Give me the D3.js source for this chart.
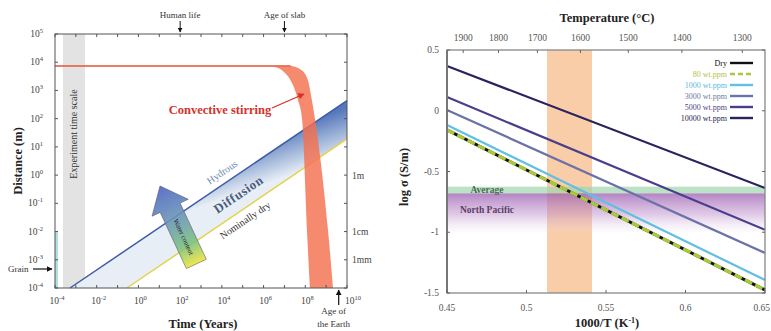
<!DOCTYPE html>
<html><head><meta charset="utf-8">
<script src="https://cdn.jsdelivr.net/npm/d3@7"></script>
<style>html,body{margin:0;padding:0;background:#fff;}svg{display:block;font-family:"Liberation Serif","DejaVu Serif",serif;}</style>
</head><body>
<svg id="c" width="771" height="331"></svg>
<script>
// ---------- Left panel data (log10 values) ----------
const timeTickExp = [-4, -2, 0, 2, 4, 6, 8, 10];
const distTickExp = [-4, -3, -2, -1, 0, 1, 2, 3, 4, 5];
const scaleLabels = [["1m", 0], ["1cm", -2], ["1mm", -3]];
const experimentBand = [-3.62, -2.56];           // log10 years
const grainBand = { t: [-4, -3.86], d: [-4, -2] };
const hydrousLine = [[-3.28, -4], [10, 2.64]];   // [log t, log d]
const dryLine = [[-0.55, -4], [10, 1.28]];
const convUpper = [[-4, 3.87], [6.45, 3.87], [7.3, 3.87], [7.78, 3.74], [8.12, 3.38], [8.27, 2.85], [8.4, 2.3], [9.09, -1.95], [9.33, -4.0]];
const convLower = [[-4, 3.84], [6.45, 3.84], [7.03, 3.62], [7.41, 3.19], [7.65, 2.66], [7.85, 1.95], [8.08, -1.95], [8.22, -4.0]];
const topMarkers = [["Human life", 2], ["Age of slab", 7]];
const earthAge = 9.65;

// ---------- Right panel data ----------
const seriesNames = ["Dry", "80 wt.ppm", "1000 wt.ppm", "3000 wt.ppm", "5000 wt.ppm", "10000 wt.ppm"];
const invT = [0.45, 0.65];
const dryVals = [-0.158, -1.475];
const ppm80Vals = [-0.158, -1.475];
const ppm1000Vals = [-0.117, -1.393];
const ppm3000Vals = [0.006, -1.17];
const ppm5000Vals = [0.113, -0.98];
const ppm10000Vals = [0.368, -0.636];
const tempTicks = [1900, 1800, 1700, 1600, 1500, 1400, 1300];
const xTicksR = [0.45, 0.5, 0.55, 0.6, 0.65];
const yTicksR = [0.5, 0, -0.5, -1, -1.5];
const orangeBand = [0.5129, 0.5412];
const averageBand = [-0.625, -0.68];
const pacificBand = [-0.68, -1.0];

const svg = d3.select("#c");
const defs = svg.append("defs");
const p10 = e => Math.pow(10, e);

// ================= LEFT PANEL =================
const xL = d3.scaleLog().domain([1e-4, 1e10]).range([55, 347]);
const yL = d3.scaleLog().domain([1e-4, 1e5]).range([288, 34]);
const L = svg.append("g");

L.append("rect").attr("x", xL(p10(experimentBand[0]))).attr("y", 34)
  .attr("width", xL(p10(experimentBand[1])) - xL(p10(experimentBand[0]))).attr("height", 254)
  .attr("fill", "#e3e3e3");
L.append("text").attr("transform", `translate(${(xL(p10(experimentBand[0])) + xL(p10(experimentBand[1]))) / 2 + 3},134) rotate(-90)`)
  .attr("text-anchor", "middle").attr("font-size", 10).attr("fill", "#333").text("Experiment time scale");

L.append("rect").attr("x", xL(p10(grainBand.t[0]))).attr("y", yL(p10(grainBand.d[1])))
  .attr("width", xL(p10(grainBand.t[1])) - xL(p10(grainBand.t[0])))
  .attr("height", yL(p10(grainBand.d[0])) - yL(p10(grainBand.d[1]))).attr("fill", "#aee0dc");

// diffusion band
const hx0 = xL(p10(hydrousLine[0][0])), hy0 = yL(p10(hydrousLine[0][1]));
const hx1 = xL(p10(hydrousLine[1][0])), hy1 = yL(p10(hydrousLine[1][1]));
const dx0 = xL(p10(dryLine[0][0])), dy0 = yL(p10(dryLine[0][1]));
const dx1 = xL(p10(dryLine[1][0])), dy1 = yL(p10(dryLine[1][1]));
const gd = defs.append("linearGradient").attr("id", "gdiff").attr("gradientUnits", "userSpaceOnUse")
  .attr("x1", 200).attr("y1", 160).attr("x2", 215).attr("y2", 202);
gd.append("stop").attr("offset", 0).attr("stop-color", "#5677bb");
gd.append("stop").attr("offset", 0.5).attr("stop-color", "#9db3d8");
gd.append("stop").attr("offset", 1).attr("stop-color", "#e8eef6");
L.append("path").attr("d", `M${hx0},${hy0}L${hx1},${hy1}L${dx1},${dy1}L${dx0},${dy0}Z`).attr("fill", "url(#gdiff)");
const lineL = d3.line().x(d => xL(p10(d[0]))).y(d => yL(p10(d[1])));
L.append("path").attr("d", lineL(hydrousLine)).attr("stroke", "#3d5ca8").attr("stroke-width", 1.5).attr("fill", "none");
L.append("path").attr("d", lineL(dryLine)).attr("stroke", "#e3d34a").attr("stroke-width", 1.5).attr("fill", "none");

// convective band
const curveL = d3.line().x(d => xL(p10(d[0]))).y(d => yL(p10(d[1]))).curve(d3.curveMonotoneX);
const up = curveL(convUpper);
const lo = curveL(convLower.slice().reverse());
L.append("path").attr("d", up + "L" + lo.slice(1) + "Z").attr("fill", "#f4704f").attr("fill-opacity", 0.82);
L.append("path").attr("d", curveL(convUpper.slice(0, 3))).attr("stroke", "#e2533a").attr("stroke-width", 1.4).attr("fill", "none");

// water content arrow
const ga = defs.append("linearGradient").attr("id", "garrow").attr("x1", 0).attr("y1", 0).attr("x2", 0).attr("y2", 1);
ga.append("stop").attr("offset", 0).attr("stop-color", "#4a64c4");
ga.append("stop").attr("offset", 0.45).attr("stop-color", "#6f9ab4");
ga.append("stop").attr("offset", 0.75).attr("stop-color", "#7cc080");
ga.append("stop").attr("offset", 1).attr("stop-color", "#ece43c");
const arr = L.append("g").attr("transform", "translate(160,186) rotate(-25)");
arr.append("path").attr("d", "M0,0L20,24L11,24L11,86L-11,86L-11,24L-20,24Z")
  .attr("fill", "url(#garrow)").attr("fill-opacity", 0.9).attr("stroke", "#556").attr("stroke-width", 0.5);
arr.append("text").attr("transform", "translate(0,56) rotate(90)").attr("text-anchor", "middle")
  .attr("dy", "0.35em").attr("font-size", 7).attr("fill", "#223").text("Water content");

const ang = -Math.atan((yL(1) - yL(10)) / (xL(10) - xL(1)) * 0.5) * 180 / Math.PI;
L.append("text").attr("transform", `translate(224,175) rotate(${ang})`).attr("text-anchor", "middle")
  .attr("font-size", 10).attr("fill", "#7086aa").text("Hydrous");
L.append("text").attr("transform", `translate(241,198) rotate(${ang})`).attr("text-anchor", "middle")
  .attr("font-size", 13).attr("font-weight", "bold").attr("fill", "#4b5d80").attr("letter-spacing", 0.6).text("Diffusion");
L.append("text").attr("transform", `translate(247,223) rotate(${ang})`).attr("text-anchor", "middle")
  .attr("font-size", 10).attr("fill", "#333").text("Nominally dry");
L.append("text").attr("x", 220).attr("y", 114).attr("text-anchor", "middle").attr("font-size", 12.5)
  .attr("font-weight", "bold").attr("fill", "#d6312b").text("Convective stirring");
defs.append("marker").attr("id", "mred").attr("viewBox", "0 0 10 10").attr("refX", 9).attr("refY", 5)
  .attr("markerWidth", 5).attr("markerHeight", 5).attr("orient", "auto")
  .append("path").attr("d", "M0,0L10,5L0,10Z").attr("fill", "#d6312b");
L.append("line").attr("x1", 272).attr("y1", 108).attr("x2", 304).attr("y2", 94)
  .attr("stroke", "#d6312b").attr("stroke-width", 1.3).attr("marker-end", "url(#mred)");

// frame & ticks
L.append("rect").attr("x", 55).attr("y", 34).attr("width", 292).attr("height", 254)
  .attr("fill", "none").attr("stroke", "#555").attr("stroke-width", 1);
d3.range(-4, 11).forEach(e => {
  const x = xL(p10(e));
  L.append("line").attr("x1", x).attr("x2", x).attr("y1", 288).attr("y2", 285).attr("stroke", "#555");
  L.append("line").attr("x1", x).attr("x2", x).attr("y1", 34).attr("y2", 37).attr("stroke", "#555");
});
distTickExp.forEach(e => {
  const y = yL(p10(e));
  L.append("line").attr("x1", 55).attr("x2", 58).attr("y1", y).attr("y2", y).attr("stroke", "#555");
  L.append("line").attr("x1", 347).attr("x2", 344).attr("y1", y).attr("y2", y).attr("stroke", "#555");
});
function pow10Label(sel, e) {
  sel.append("tspan").text("10");
  sel.append("tspan").attr("dy", -4).attr("font-size", 6.5).text(e < 0 ? "-" + Math.abs(e) : e);
}
timeTickExp.forEach(e => {
  const t = L.append("text").attr("x", xL(p10(e)) + (e === 10 ? 6 : 2)).attr("y", 304).attr("text-anchor", "middle")
    .attr("font-size", 9.5).attr("fill", "#444");
  pow10Label(t, e);
});
distTickExp.forEach(e => {
  const t = L.append("text").attr("x", 43).attr("y", yL(p10(e)) + 3).attr("text-anchor", "end")
    .attr("font-size", 9.5).attr("fill", "#444");
  pow10Label(t, e);
});
scaleLabels.forEach(([lab, e]) => {
  L.append("text").attr("x", 352).attr("y", yL(p10(e)) + 3.5).attr("font-size", 9.5).attr("fill", "#444").text(lab);
});
L.append("text").attr("transform", "translate(22,161) rotate(-90)").attr("text-anchor", "middle")
  .attr("font-size", 12.5).attr("font-weight", "bold").attr("fill", "#222").text("Distance (m)");
L.append("text").attr("x", 203).attr("y", 328).attr("text-anchor", "middle")
  .attr("font-size", 12.5).attr("font-weight", "bold").attr("fill", "#222").text("Time (Years)");

defs.append("marker").attr("id", "mblk").attr("viewBox", "0 0 10 10").attr("refX", 9).attr("refY", 5)
  .attr("markerWidth", 5).attr("markerHeight", 5).attr("orient", "auto")
  .append("path").attr("d", "M0,0L10,5L0,10Z").attr("fill", "#111");
topMarkers.forEach(([lab, e]) => {
  const x = xL(p10(e));
  L.append("text").attr("x", x).attr("y", 18).attr("text-anchor", "middle").attr("font-size", 9).attr("fill", "#333").text(lab);
  L.append("line").attr("x1", x).attr("x2", x).attr("y1", 21).attr("y2", 32).attr("stroke", "#111")
    .attr("stroke-width", 1).attr("marker-end", "url(#mblk)");
});
const ex = xL(p10(earthAge)) - 1;
L.append("line").attr("x1", ex).attr("x2", ex).attr("y1", 305).attr("y2", 290).attr("stroke", "#111")
  .attr("stroke-width", 1.2).attr("marker-end", "url(#mblk)");
L.append("text").attr("x", ex - 5).attr("y", 314).attr("text-anchor", "middle").attr("font-size", 9).attr("fill", "#333").text("Age of");
L.append("text").attr("x", ex - 5).attr("y", 327).attr("text-anchor", "middle").attr("font-size", 9).attr("fill", "#333").text("the Earth");
L.append("text").attr("x", 8).attr("y", 272).attr("font-size", 9).attr("fill", "#333").text("Grain");
L.append("line").attr("x1", 33).attr("x2", 52).attr("y1", 269).attr("y2", 269).attr("stroke", "#111")
  .attr("stroke-width", 1.2).attr("marker-end", "url(#mblk)");

// ================= RIGHT PANEL =================
const xR = d3.scaleLinear().domain([0.45, 0.65]).range([447, 765]);
const yR = d3.scaleLinear().domain([-1.5, 0.5]).range([293, 50]);
const R = svg.append("g");
R.append("rect").attr("x", xR(orangeBand[0])).attr("y", 50).attr("width", xR(orangeBand[1]) - xR(orangeBand[0]))
  .attr("height", 243).attr("fill", "#f9c49a").attr("fill-opacity", 0.85);
R.append("rect").attr("x", 447).attr("y", yR(averageBand[0])).attr("width", 318)
  .attr("height", yR(averageBand[1]) - yR(averageBand[0])).attr("fill", "#9fd6ae").attr("fill-opacity", 0.7);
const gp = defs.append("linearGradient").attr("id", "gpac").attr("x1", 0).attr("y1", 0).attr("x2", 0).attr("y2", 1);
gp.append("stop").attr("offset", 0).attr("stop-color", "#9a5bb0").attr("stop-opacity", 0.75);
gp.append("stop").attr("offset", 0.55).attr("stop-color", "#b98ac8").attr("stop-opacity", 0.45);
gp.append("stop").attr("offset", 1).attr("stop-color", "#e8d8ee").attr("stop-opacity", 0.1);
R.append("rect").attr("x", 447).attr("y", yR(pacificBand[0])).attr("width", 318)
  .attr("height", yR(pacificBand[1]) - yR(pacificBand[0])).attr("fill", "url(#gpac)");
R.append("text").attr("x", 487).attr("y", 193).attr("text-anchor", "middle").attr("font-size", 9.5)
  .attr("font-weight", "bold").attr("fill", "#4d6a55").text("Average");
R.append("text").attr("x", 487).attr("y", 213).attr("text-anchor", "middle").attr("font-size", 9.5)
  .attr("font-weight", "bold").attr("fill", "#5a3f68").text("North Pacific");

const seriesVals = [dryVals, ppm80Vals, ppm1000Vals, ppm3000Vals, ppm5000Vals, ppm10000Vals];
const seriesColors = ["#111111", "#a9c83c", "#62bfe4", "#6a72a8", "#4a3e8c", "#29235e"];
const textColors = ["#111111", "#b8c048", "#5ab8e0", "#6f7a9a", "#4d4288", "#1f1b50"];
const lineR = d3.line().x((d, i) => xR(invT[i])).y(d => yR(d));
[5, 4, 3, 2].forEach(i => {
  R.append("path").attr("d", lineR(seriesVals[i])).attr("stroke", seriesColors[i]).attr("stroke-width", 2.2).attr("fill", "none");
});
R.append("path").attr("d", lineR(seriesVals[0])).attr("stroke", seriesColors[0]).attr("stroke-width", 3).attr("fill", "none");
R.append("path").attr("d", lineR(seriesVals[1])).attr("stroke", seriesColors[1]).attr("stroke-width", 3.4)
  .attr("stroke-dasharray", "8,3.5").attr("fill", "none");

seriesNames.forEach((n, i) => {
  const y = 63 + i * 11;
  R.append("text").attr("x", 727).attr("y", y + 3).attr("text-anchor", "end").attr("font-size", 8)
    .attr("fill", textColors[i]).text(n);
  R.append("line").attr("x1", 730).attr("x2", 753).attr("y1", y).attr("y2", y).attr("stroke", seriesColors[i])
    .attr("stroke-width", 2.4).attr("stroke-dasharray", i === 1 ? "5,3" : null);
});

R.append("rect").attr("x", 447).attr("y", 50).attr("width", 318).attr("height", 243)
  .attr("fill", "none").attr("stroke", "#888").attr("stroke-width", 1.3);
R.append("line").attr("x1", 447).attr("x2", 447).attr("y1", 50).attr("y2", 293).attr("stroke", "#777").attr("stroke-width", 2);
xTicksR.forEach((v, i) => {
  R.append("line").attr("x1", xR(v)).attr("x2", xR(v)).attr("y1", 293).attr("y2", 290).attr("stroke", "#666");
  const last = i === xTicksR.length - 1;
  R.append("text").attr("x", last ? 770 : xR(v)).attr("y", 311).attr("text-anchor", last ? "end" : "middle")
    .attr("font-size", 9.5).attr("fill", "#555").text(v);
});
yTicksR.forEach(v => {
  R.append("line").attr("x1", 447).attr("x2", 450).attr("y1", yR(v)).attr("y2", yR(v)).attr("stroke", "#666");
  R.append("line").attr("x1", 765).attr("x2", 762).attr("y1", yR(v)).attr("y2", yR(v)).attr("stroke", "#666");
  R.append("text").attr("x", 439).attr("y", yR(v) + 3).attr("text-anchor", "end").attr("font-size", 9.5)
    .attr("fill", "#555").text(v);
});
tempTicks.forEach(T => {
  const x = xR(1000 / (T + 273));
  R.append("line").attr("x1", x).attr("x2", x).attr("y1", 50).attr("y2", 53).attr("stroke", "#666");
  R.append("text").attr("x", x).attr("y", 41).attr("text-anchor", "middle").attr("font-size", 9.5)
    .attr("fill", "#555").text(T);
});
R.append("text").attr("x", 607).attr("y", 22).attr("text-anchor", "middle").attr("font-size", 12.5)
  .attr("font-weight", "bold").attr("fill", "#222").text("Temperature (°C)");
const xl = R.append("text").attr("x", 607).attr("y", 327).attr("text-anchor", "middle").attr("font-size", 12.5)
  .attr("font-weight", "bold").attr("fill", "#222");
xl.append("tspan").text("1000/T (K");
xl.append("tspan").attr("dy", -4).attr("font-size", 8).text("-1");
xl.append("tspan").attr("dy", 4).text(")");
R.append("text").attr("transform", "translate(408,177) rotate(-90)").attr("text-anchor", "middle")
  .attr("font-size", 12.5).attr("font-weight", "bold").attr("fill", "#222").text("log σ (S/m)");
</script>
</body></html>
